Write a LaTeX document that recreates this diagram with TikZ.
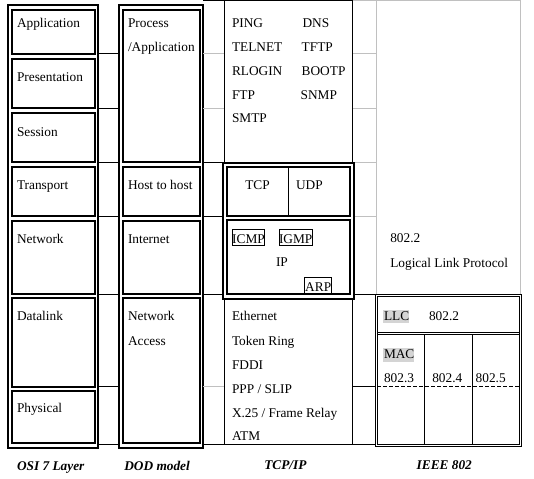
\documentclass[tikz,border=0pt]{standalone}
\usepackage{fontspec}
\setmainfont{Liberation Serif}
\definecolor{lgray}{RGB}{192,192,192}
\definecolor{hgray}{RGB}{212,212,212}
\begin{document}
\begin{tikzpicture}[x=0.75pt,y=-0.75pt,
  frame/.style={line width=1.5pt},
  hair/.style={line width=0.75pt},
  gline/.style={line width=0.75pt,draw=lgray},
  lbl/.style={anchor=base west,inner sep=0pt,outer sep=0pt},
  boxlbl/.style={anchor=base,inner sep=0pt,outer sep=0pt},
  capt/.style={lbl,font=\bfseries\itshape}]
\useasboundingbox (0,0) rectangle (534,478);
\fill[white] (0,0) rectangle (534,478);

% ---------------- OSI column
\draw[frame] (8.2,4.8) rectangle (98.3,447.8);
\foreach \a/\b in {10/54.3,59.3/107.7,113.3/162.3,167/216,220.7/294.3,298.3/386.7,391/442.7}
  \draw[frame] (12,\a) rectangle (95,\b);

% ---------------- DOD column
\draw[frame] (119.3,4.8) rectangle (203,447.8);
\foreach \a/\b in {10/162.3,167/216,220.7/294.3,298.3/442.7}
  \draw[frame] (123,\a) rectangle (200,\b);

% gap 1 row lines
\foreach \y in {54,108.5,162.5,216,294.3,386.3,444}
  \draw[hair] (98.3,\y) -- (119.3,\y);

% gap 2 row lines
\draw[gline] (203,54) -- (224.8,54);
\draw[gline] (203,108.5) -- (224.8,108.5);
\draw[hair] (203,162.5) -- (223,162.5);
\draw[hair] (203,216) -- (223,216);
\draw[hair] (203,294.3) -- (223,294.3);
\draw[gline] (203,386.3) -- (224.8,386.3);
\draw[hair] (203,444) -- (375.2,444);

% gap 3 row lines
\draw[gline] (352.8,54) -- (376.2,54);
\draw[gline] (352.8,108.5) -- (376.2,108.5);
\draw[gline] (354.3,162.5) -- (376.2,162.5);
\draw[gline] (354.3,216) -- (376.2,216);
\draw[hair] (354.3,294.3) -- (375.2,294.3);
\draw[hair] (352.8,386.3) -- (375.2,386.3);

% top line and TCP/IP cell borders
\draw[hair] (203,0.5) -- (352.8,0.5);
\draw[gline] (352.8,0.5) -- (520.2,0.5);
\draw[hair] (224.8,0) -- (224.8,163);
\draw[hair] (352.8,0) -- (352.8,163);
\draw[hair] (224.8,298.7) -- (224.8,444);
\draw[hair] (352.8,298.7) -- (352.8,444);

% IEEE upper cell
\draw[gline] (376.2,0.5) -- (376.2,294.5);
\draw[gline] (520.2,0.5) -- (520.2,294.5);

% TCP/IP transport + internet double box
\draw[frame] (223,163) rectangle (354.3,298.7);
\draw[frame] (227,167) rectangle (349.7,216);
\draw[frame] (227,220) rectangle (349.7,294);
\draw[hair] (288.5,167) -- (288.5,216);
\draw[hair] (232.3,229) rectangle (264.7,245.7);
\draw[hair] (279.3,229) rectangle (312,245.7);
\draw[hair] (304.7,277.3) rectangle (331.7,294);

% IEEE lower box
\draw[hair] (375.2,294.5) rectangle (521.2,446.2);
\draw[hair] (377.2,296.5) rectangle (519.2,444.2);
\draw[hair] (377.2,332.5) -- (519.2,332.5);
\draw[hair] (377.2,334.5) -- (519.2,334.5);
\draw[hair] (424.2,334.5) -- (424.2,444.2);
\draw[hair] (472.5,334.5) -- (472.5,444.2);
\draw[hair,dash pattern=on 3pt off 1.5pt] (377.2,386.3) -- (519.2,386.3);
\fill[hgray] (382.7,310) rectangle (409,323.3);
\fill[hgray] (382.7,348.3) rectangle (414,361.7);

% ---------------- texts: OSI
\node[lbl] (oApp) at (17,28) {Application};
\node[lbl] (oPre) at (17,81.7) {Presentation};
\node[lbl] (oSes) at (17,136) {Session};
\node[lbl] (oTra) at (17,189.5) {Transport};
\node[lbl] (oNet) at (17,243.3) {Network};
\node[lbl] (oDat) at (17,320.7) {Datalink};
\node[lbl] (oPhy) at (17,412.7) {Physical};

% DOD
\node[lbl] (dPro) at (128,27.8) {Process};
\node[lbl] (dApp) at (128,51) {/Application};
\node[lbl] (dHost) at (128,189.5) {Host to host};
\node[lbl] (dInt) at (128,243.3) {Internet};
\node[lbl] (dNet) at (128,320.7) {Network};
\node[lbl] (dAcc) at (128,345) {Access};

% TCP/IP applications
\node[lbl] (tPing) at (232,27.5) {PING};
\node[lbl] (tDns) at (302.5,27.5) {DNS};
\node[lbl] (tTel) at (232,51.3) {TELNET};
\node[lbl] (tTftp) at (301.7,51.3) {TFTP};
\node[lbl] (tRlo) at (232,75.2) {RLOGIN};
\node[lbl] (tBoot) at (301.7,75.2) {BOOTP};
\node[lbl] (tFtp) at (232,99) {FTP};
\node[lbl] (tSnmp) at (300.7,99) {SNMP};
\node[lbl] (tSmtp) at (232,122.8) {SMTP};

% transport / internet
\node[lbl] (tTcp) at (245.3,189) {TCP};
\node[lbl] (tUdp) at (296,189) {UDP};
\node[boxlbl] (tIcmp) at (248.5,243.3) {ICMP};
\node[boxlbl] (tIgmp) at (295.7,243.3) {IGMP};
\node[lbl] (tIp) at (276,266.7) {IP};
\node[boxlbl] (tArp) at (318.2,291.3) {ARP};

% link layer
\node[lbl] (tEth) at (232,320.7) {Ethernet};
\node[lbl] (tTok) at (232,345) {Token Ring};
\node[lbl] (tFddi) at (232,369) {FDDI};
\node[lbl] (tPpp) at (232,393) {PPP / SLIP};
\node[lbl] (tX25) at (232,417.5) {X.25 / Frame Relay};
\node[lbl] (tAtm) at (232,440.8) {ATM};

% IEEE
\node[lbl] (i8022a) at (390.3,242.7) {802.2};
\node[lbl] (iLlp) at (390.3,267.3) {Logical Link Protocol};
\node[lbl] (iLlc) at (384,320.7) {LLC};
\node[lbl] (i8022b) at (429,320.7) {802.2};
\node[lbl] (iMac) at (384,358.3) {MAC};
\node[lbl] (i8023) at (384,382.7) {802.3};
\node[lbl] (i8024) at (432.3,382.7) {802.4};
\node[lbl] (i8025) at (475.7,382.7) {802.5};

% captions
\node[capt] (cOsi) at (17,470) {OSI 7 Layer};
\node[capt] (cDod) at (124.3,470) {DOD model};
\node[capt] (cTcp) at (264.3,469) {TCP/IP};
\node[capt] (cIeee) at (416.7,469) {IEEE 802};
\end{tikzpicture}
\end{document}
